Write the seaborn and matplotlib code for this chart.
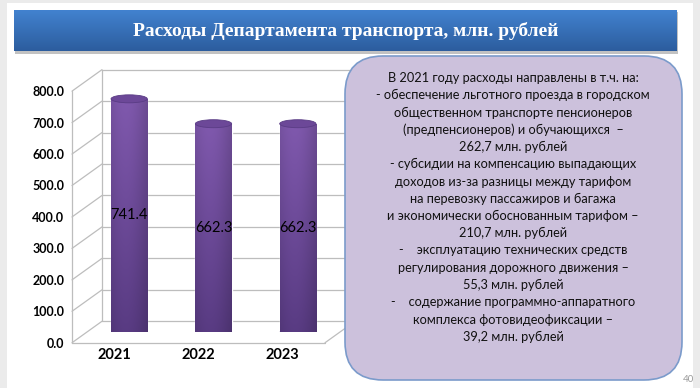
import numpy as np
import pandas as pd
import matplotlib
matplotlib.use("Agg")
import matplotlib.pyplot as plt
import seaborn as sns
from matplotlib.patches import Rectangle, FancyBboxPatch, Ellipse
from matplotlib.ticker import FormatStrFormatter
from matplotlib.transforms import ScaledTranslation
from matplotlib.colors import LinearSegmentedColormap, to_rgb

# ---------------- data ----------------
years = ["2021", "2022", "2023"]
values = [741.4, 662.3, 662.3]
y_ticks = [0, 100, 200, 300, 400, 500, 600, 700, 800]
title = "Расходы Департамента транспорта, млн. рублей"
note_lines = [
    "В 2021 году расходы направлены в т.ч. на:",
    "- обеспечение льготного проезда в городском",
    "общественном транспорте пенсионеров",
    "(предпенсионеров) и обучающихся  –",
    "262,7 млн. рублей",
    "- субсидии на компенсацию выпадающих",
    "доходов из-за разницы между тарифом",
    "на перевозку пассажиров и багажа",
    "и экономически обоснованным тарифом –",
    "210,7 млн. рублей",
    "-    эксплуатацию технических средств",
    "регулирования дорожного движения –",
    "55,3 млн. рублей",
    "-    содержание программно-аппаратного",
    "комплекса фотовидеофиксации –",
    "39,2 млн. рублей",
]
page_number = "40"

sns.set_theme(style="white")
plt.rcParams["font.family"] = ["Lato", "DejaVu Sans"]

W, H = 700, 388
fig = plt.figure(figsize=(7, 3.88), dpi=100)
fig.patch.set_facecolor("#ebebeb")

# ---------------- slide background + banner ----------------
bg = fig.add_axes([0, 0, 1, 1], zorder=0)
bg.add_patch(Rectangle((7, 3), 686, 392, fc="white", ec="none"))
bg.add_patch(Rectangle((15, 12), 663, 42, fc="#a8a8a8", ec="none", alpha=0.7))
bcmap = LinearSegmentedColormap.from_list("banner", ["#4282cf", "#2c5d9e"])
bg.imshow(np.linspace(0, 1, 60)[:, None], extent=(14, 677, 51, 10), cmap=bcmap,
          aspect="auto", interpolation="bilinear", zorder=2)
bg.text(346, 31, title, ha="center", va="center", color="white", fontsize=14,
        fontweight="bold", family=["Liberation Serif", "DejaVu Serif"], zorder=3)
bg.set_xlim(0, W)
bg.set_ylim(H, 0)
bg.axis("off")

# ---------------- chart ----------------
ax = fig.add_axes([87 / W, (H - 332) / H, 253 / W, 251.6 / H], zorder=1)
ax.patch.set_alpha(0)
df = pd.DataFrame({"year": years, "value": values})
sns.barplot(data=df, x="year", y="value", color="#5e3f8a", width=0.43,
            saturation=1, ax=ax, zorder=3)
ax.set_xlim(-0.5, 2.5)
ax.set_ylim(0, 800)

px_x = 3 / 253.0          # data units per pixel (x)
px_y = 800 / 251.6        # data units per pixel (y)
dx = 15 * px_x
dy = 10.75 * px_y
gc = "#bdbdbd"
glw = 0.9
kw = dict(color=gc, lw=glw, clip_on=False, zorder=1)
for v in y_ticks:
    ax.plot([-0.5 + dx, 2.5 + dx], [v + dy, v + dy], **kw)
    ax.plot([-0.5 - dx, -0.5 + dx], [v - dy, v + dy], **kw)
ax.plot([-0.5 + dx] * 2, [dy, 800 + dy], **kw)
ax.plot([2.5 + dx] * 2, [dy, 800 + dy], **kw)
ax.plot([-0.5 - dx] * 2, [-dy, 800 - dy], **kw)
ax.plot([-0.5 - dx, 2.5 - dx], [-dy, -dy], **kw)
ax.plot([2.5 - dx, 2.5 + dx], [-dy, dy], **kw)

# cylinders
top_c = np.array(to_rgb("#7d57aa"))
bot_c = np.array(to_rgb("#573a80"))
eh = 8 * px_y
for p, v in zip(ax.patches, values):
    x0, w, h = p.get_x(), p.get_width(), p.get_height()
    cx = x0 + w / 2
    ny, nx = 100, 60
    t = np.linspace(0, 1, nx)
    shade = 0.9 + 0.12 * np.cos((t - 0.4) * np.pi)
    vert = np.linspace(0, 1, ny)[:, None, None]
    img = (bot_c + (top_c - bot_c) * vert) * shade[None, :, None]
    img = np.clip(img, 0, 1)
    ax.add_patch(Ellipse((cx, 0), w, eh, fc="#553a7e", ec="none", zorder=2))
    im = ax.imshow(img, extent=(x0, x0 + w, 0, h), origin="lower",
                   aspect="auto", interpolation="bilinear", zorder=3.5)
    im.set_clip_path(p)
    ax.add_patch(Ellipse((cx, h), w, eh, fc="#6c4898", ec="#5a3c85",
                         lw=0.6, zorder=4))
    ax.text(cx, v / 2, f"{v:.1f}", ha="center", va="center", fontsize=10.5,
            color="black", zorder=5)
ax.set_xlim(-0.5, 2.5)
ax.set_ylim(0, 800)

# axes labels in the front plane
ax.set_yticks(y_ticks)
ax.yaxis.set_major_formatter(FormatStrFormatter("%.1f"))
ax.tick_params(axis="y", length=0, pad=5.5, labelsize=9)
ax.tick_params(axis="x", length=0, pad=4, labelsize=10.5)
front = ScaledTranslation(-15 / 100, -10.75 / 100, fig.dpi_scale_trans)
for lab in ax.get_yticklabels() + ax.get_xticklabels():
    lab.set_fontweight("bold")
    lab.set_color("black")
    lab.set_transform(lab.get_transform() + front)
ax.set_xlabel("")
ax.set_ylabel("")
for s in ax.spines.values():
    s.set_visible(False)
ax.grid(False)

# ---------------- text box overlay ----------------
ov = fig.add_axes([0, 0, 1, 1], zorder=2)
ov.patch.set_alpha(0)
ov.add_patch(FancyBboxPatch((345, 56), 337, 324,
                            boxstyle="round,pad=0,rounding_size=38",
                            fc="#ccc1dc", ec="#7b9bcb", lw=1.2))
for i, line in enumerate(note_lines):
    ov.text(513, 78 + i * 17.25, line, ha="center", va="center",
            fontsize=9.2, color="#111111")
ov.text(688, 379, page_number, ha="center", va="center", fontsize=7,
        color="#9a9a9a")
ov.set_xlim(0, W)
ov.set_ylim(H, 0)
ov.axis("off")

fig.savefig("out.png", dpi=100, facecolor=fig.get_facecolor())
